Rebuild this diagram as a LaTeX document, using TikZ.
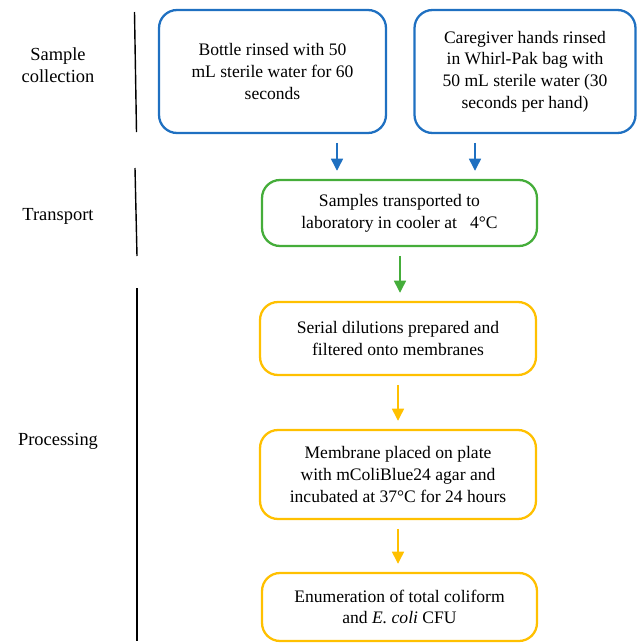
\documentclass[tikz,border=0pt]{standalone}
\usepackage{fontspec}
\setmainfont{Liberation Serif}
\usetikzlibrary{arrows.meta}
\usetikzlibrary{positioning}

\definecolor{stepblue}{HTML}{1F70C1}
\definecolor{stepgreen}{HTML}{45AD3A}
\definecolor{stepyellow}{HTML}{FFC000}

\begin{document}
\begin{tikzpicture}[x=0.02cm,y=-0.02cm,
  box/.style={draw,rounded corners=0.36cm,line width=1.3pt,align=center,
    font=\fontsize{10}{12.3}\selectfont,inner sep=0pt},
  flow/.style={line width=1.6pt,-{Triangle[width=6.6pt,length=7pt]},
    shorten <=5pt,shorten >=4.5pt},
  phase/.style={align=center,font=\fontsize{10.5}{12.5}\selectfont},
  sep/.style={line width=0.8pt}]
\useasboundingbox (0,0) rectangle (637,643);

% sample collection
\node[box,draw=stepblue,minimum width=4.54cm,minimum height=2.46cm] (bottle) at (272.5,71.5)
  {Bottle rinsed with 50\\ mL sterile water for 60\\ seconds};
\node[box,draw=stepblue,minimum width=4.42cm,minimum height=2.46cm] (hands) at (525,71.5)
  {Caregiver hands rinsed\\ in Whirl-Pak bag with\\ 50 mL sterile water (30\\ seconds per hand)};

% transport
\node[box,draw=stepgreen,minimum width=5.5cm,minimum height=1.32cm] (cooler) at (399.5,213)
  {Samples transported to\\ laboratory in cooler at \ \ 4°C};

% processing
\node[box,draw=stepyellow,minimum width=5.52cm,minimum height=1.46cm] (dilute) at (398,338.5)
  {Serial dilutions prepared and\\ filtered onto membranes};
\node[box,draw=stepyellow,minimum width=5.52cm,minimum height=1.78cm] (plate) at (398,474.5)
  {Membrane placed on plate\\ with mColiBlue24 agar and\\ incubated at 37°C for 24 hours};
\node[box,draw=stepyellow,minimum width=5.5cm,minimum height=1.36cm] (count) at (399.5,607)
  {Enumeration of total coliform\\ and \textit{E. coli} CFU};

% arrows
\coordinate (a1) at (337,0);
\coordinate (a2) at (475,0);
\coordinate (a3) at (400,0);
\coordinate (a4) at (398,0);
\draw[flow,stepblue] (bottle.south -| a1) -- (cooler.north -| a1);
\draw[flow,stepblue] (hands.south -| a2) -- (cooler.north -| a2);
\draw[flow,stepgreen] (cooler.south -| a3) -- (dilute.north -| a3);
\draw[flow,stepyellow] (dilute.south -| a4) -- (plate.north -| a4);
\draw[flow,stepyellow] (plate.south -| a4) -- (count.north -| a4);

% phases
\node[phase] (collect) at (58,65) {Sample\\ collection};
\node[phase] (move) at (58,216) {Transport};
\node[phase] (process) at (58,441) {Processing};
\draw[sep] (134.5,12) -- (136.5,132);
\draw[sep] (135,168) -- (137,256);
\draw[sep] (137,288) -- (137,641);

\end{tikzpicture}
\end{document}
